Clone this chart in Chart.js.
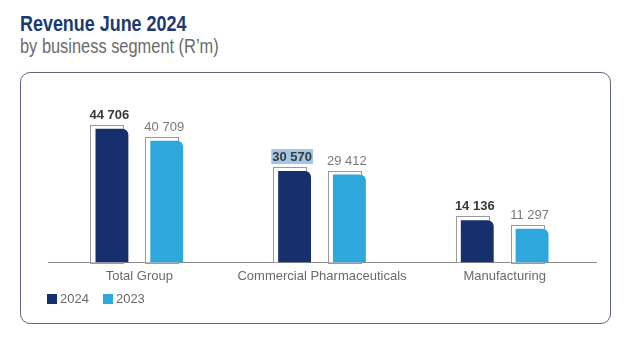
<!DOCTYPE html>
<html>
<head>
<meta charset="utf-8">
<script src="https://cdn.jsdelivr.net/npm/chart.js@4"></script>
<style>
    html, body { margin: 0; padding: 0; background: #fff; }
    body { width: 640px; height: 348px; position: relative; overflow: hidden; }
    .rv-title {
        position: absolute; left: 20px; top: 11px;
        font: bold 22px 'Liberation Sans', sans-serif;
        color: #1c3a72; white-space: nowrap;
        transform: scaleX(0.815); transform-origin: left top;
    }
    .rv-sub {
        position: absolute; left: 20px; top: 35px;
        font: 20px 'Liberation Sans', sans-serif;
        color: #6b6b6b; white-space: nowrap;
        transform: scaleX(0.82); transform-origin: left top;
    }
    .rv-panel {
        position: absolute; left: 20px; top: 72px; width: 589px; height: 250px;
        border: 1.5px solid #5d6583; border-radius: 10px;
    }
    .rv-chart { position: absolute; left: 0; top: 0; width: 640px; height: 348px; }
    .rv-legend {
        position: absolute; left: 47px; top: 291px;
        font: 13px 'Liberation Sans', sans-serif; color: #6a6a6a;
        display: flex; gap: 14px; line-height: 16px;
    }
    .rv-legend span { display: flex; align-items: center; }
    .rv-legend i { display: inline-block; width: 10px; height: 10px; margin-right: 3px; }
</style>
</head>
<body>
<div class="rv-title">Revenue June 2024</div>
<div class="rv-sub">by business segment (R’m)</div>
<div class="rv-panel"></div>
<div class="rv-chart"><canvas id="revenueChart"></canvas></div>
<div class="rv-legend" id="revenueLegend"></div>

<script>
// Omzet per bedrijfssegment, juni 2024 vs 2023 (R'm)

const SEGMENTS = ['Total Group', 'Commercial Pharmaceuticals', 'Manufacturing'];
const REV_2024 = [44706, 30570, 14136];
const REV_2023 = [40709, 29412, 11297];
const HIGHLIGHT_2024 = [false, true, false];   // gemarkeerd label in het origineel

const COLORS = { y2024: '#17306d', y2023: '#2ea7dd' };

function fmtNum(v) {
    return String(v).replace(/\B(?=(\d{3})+(?!\d))/g, ' ');
}

// witte "schaduw"-kaders achter de balken, iets naar linksboven verschoven
const frameBoxes = {
    id: 'frameBoxes',
    beforeDatasetsDraw(chart) {
        const { ctx } = chart;
        const base = chart.scales.y.getPixelForValue(0);
        ctx.save();
        chart.data.datasets.forEach((ds, di) => {
            chart.getDatasetMeta(di).data.forEach(bar => {
                const w = bar.width;
                const x = bar.x - w / 2 - 5;
                const y = bar.y - 4;
                ctx.fillStyle = '#ffffff';
                ctx.fillRect(x, y, w, base - y);
                ctx.strokeStyle = '#9a9a9a';
                ctx.lineWidth = 1;
                ctx.strokeRect(Math.round(x) + 0.5, Math.round(y) + 0.5, Math.round(w), Math.round(base - y));
            });
        });
        ctx.restore();
    }
};

const valueLabels = {
    id: 'valueLabels',
    afterDatasetsDraw(chart) {
        const { ctx } = chart;
        ctx.save();
        ctx.textAlign = 'center';
        ctx.textBaseline = 'alphabetic';
        chart.data.datasets.forEach((ds, di) => {
            chart.getDatasetMeta(di).data.forEach((bar, i) => {
                const cx = bar.x - 5 / 2;
                const ty = bar.y - 10;
                const txt = fmtNum(ds.data[i]);
                ctx.font = di === 0 ? 'bold 13px "Liberation Sans", Arial' : '13px "Liberation Sans", Arial';
                if (di === 0 && HIGHLIGHT_2024[i]) {
                    const tw = ctx.measureText(txt).width;
                    ctx.fillStyle = '#a3c6e6';
                    ctx.fillRect(cx - tw / 2 - 1, ty - 12, tw + 2, 15);
                }
                ctx.fillStyle = di === 0 ? '#3a3a3a' : '#7a7a7a';
                ctx.fillText(txt, cx, ty);
            });
        });
        ctx.restore();
    }
};

Chart.defaults.font.family = '"Liberation Sans", Arial, sans-serif';
Chart.defaults.color = '#6a6a6a';

const chart = new Chart(document.getElementById('revenueChart'), {
    type: 'bar',
    data: {
        labels: SEGMENTS,
        datasets: [
            {
                label: '2024',
                data: REV_2024,
                backgroundColor: COLORS.y2024,
                borderRadius: { topRight: 6 },
                borderSkipped: false
            },
            {
                label: '2023',
                data: REV_2023,
                backgroundColor: COLORS.y2023,
                borderRadius: { topRight: 6 },
                borderSkipped: false
            }
        ]
    },
    options: {
        responsive: true,
        maintainAspectRatio: false,
        animation: false,
        categoryPercentage: 0.6,
        barPercentage: 0.6,
        layout: { padding: { left: 48, right: 44, top: 113, bottom: 58 } },
        scales: {
            x: {
                grid: { display: false, drawTicks: false },
                border: { display: true, color: '#8a8a8a', width: 1 },
                ticks: { padding: 6, font: { size: 13 }, color: '#6a6a6a' }
            },
            y: {
                display: false,
                min: 0,
                max: 50000
            }
        },
        plugins: {
            legend: { display: false },
            tooltip: { enabled: false }
        }
    },
    plugins: [frameBoxes, valueLabels]
});

document.getElementById('revenueLegend').innerHTML = chart.data.datasets.map(ds =>
    `<span><i style="background:${ds.backgroundColor}"></i>${ds.label}</span>`
).join('');
</script>
</body>
</html>
